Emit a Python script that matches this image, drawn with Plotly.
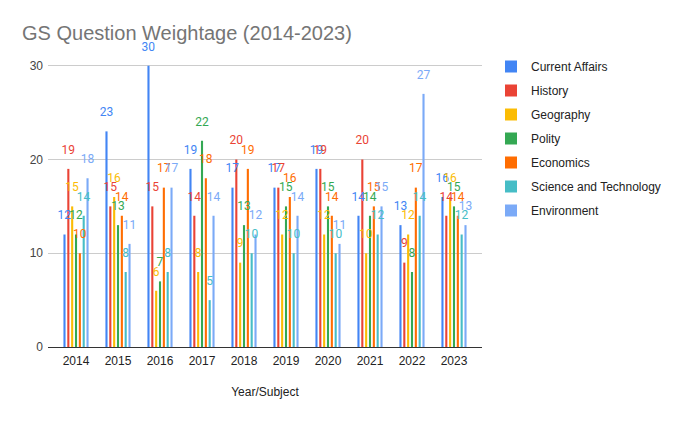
import plotly.graph_objects as go

years = ["2014", "2015", "2016", "2017", "2018", "2019", "2020", "2021", "2022", "2023"]
current_affairs = [12, 23, 30, 19, 17, 17, 19, 14, 13, 16]
history = [19, 15, 15, 14, 20, 17, 19, 20, 9, 14]
geography = [15, 16, 6, 8, 9, 12, 12, 10, 12, 16]
polity = [12, 13, 7, 22, 13, 15, 15, 14, 8, 15]
economics = [10, 14, 17, 18, 19, 16, 14, 15, 17, 14]
science_tech = [14, 8, 8, 5, 10, 10, 10, 12, 14, 12]
environment = [18, 11, 17, 14, 12, 14, 11, 15, 27, 13]

series = [
    ("Current Affairs", current_affairs, "#4285F4"),
    ("History", history, "#EA4335"),
    ("Geography", geography, "#FBBC04"),
    ("Polity", polity, "#34A853"),
    ("Economics", economics, "#FF6D01"),
    ("Science and Technology", science_tech, "#46BDC6"),
    ("Environment", environment, "#7BAAF7"),
]

LABEL_LIFT = 1.3  # gap (in data units) between bar top and its label

fig = go.Figure()
for i, (name, vals, color) in enumerate(series):
    fig.add_trace(go.Bar(
        x=years, y=vals, name=name, marker=dict(color=color, line=dict(width=0)),
        offsetgroup=str(i), legendgroup=name,
    ))
for i, (name, vals, color) in enumerate(series):
    fig.add_trace(go.Bar(
        x=years, y=[LABEL_LIFT] * len(vals), base=vals,
        offsetgroup=str(i), legendgroup=name, showlegend=False,
        marker=dict(color="rgba(0,0,0,0)", line=dict(width=0)),
        text=[str(v) for v in vals], textposition="outside",
        textfont=dict(color=color, size=12, family="Roboto"),
        constraintext="none", cliponaxis=False, hoverinfo="skip",
    ))

fig.update_layout(
    width=680, height=421,
    paper_bgcolor="white", plot_bgcolor="white",
    margin=dict(l=48, r=198, t=47, b=74),
    barmode="group", bargap=0.36, bargroupgap=0.45,
    font=dict(family="Liberation Sans, Arial", size=12, color="#222222"),
    title=dict(text="GS Question Weightage (2014-2023)", x=22 / 680, xanchor="left",
               y=1 - 33 / 421, yanchor="middle",
               font=dict(size=20, color="#757575", family="Liberation Sans, Arial")),
    legend=dict(xref="container", yref="container", x=491 / 680, xanchor="left",
                y=1 - 52 / 421, yanchor="top",
                font=dict(size=12, color="#222222"), tracegroupgap=5,
                bgcolor="rgba(0,0,0,0)"),
    showlegend=True,
)
fig.update_xaxes(showgrid=False, ticks="", showline=False, automargin=False,
                 range=[-0.667, 9.667], ticklabelstandoff=5,
                 title=dict(text="Year/Subject", font=dict(size=12, color="#222222"), standoff=20),
                 tickfont=dict(size=12, color="#222222"))
fig.update_yaxes(range=[0, 32], tickvals=[0, 10, 20, 30], showgrid=True,
                 gridcolor="#cccccc", gridwidth=1, automargin=False,
                 zeroline=True, zerolinecolor="#333333", zerolinewidth=1,
                 ticks="", showline=False, tickfont=dict(size=12, color="#444444"),
                 ticklabelstandoff=4)

fig.write_html("out.html", config={"displayModeBar": False},
               post_script="document.body.style.margin='0';")
